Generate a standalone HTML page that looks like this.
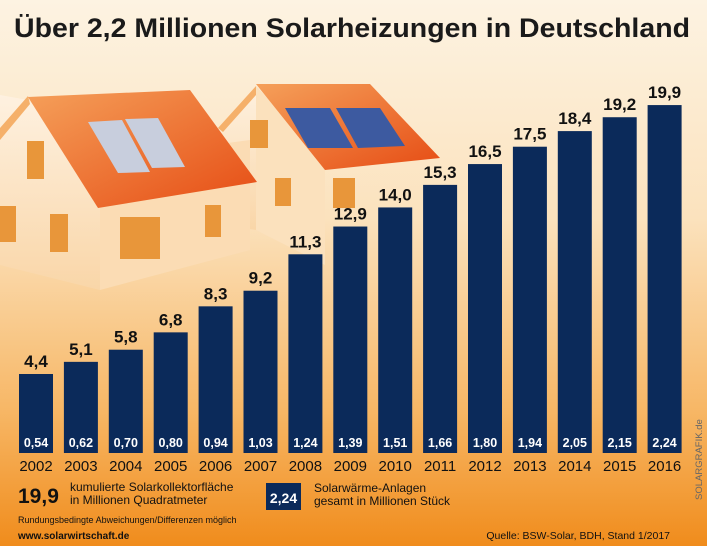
<!DOCTYPE html><html><head><meta charset="utf-8"><style>
body{margin:0;width:707px;height:546px;overflow:hidden;font-family:"Liberation Sans",sans-serif}
svg{display:block}
</style></head><body>
<svg width="707" height="546" viewBox="0 0 707 546">
<defs>
<linearGradient id="bg" x1="0" y1="0" x2="0" y2="1">
<stop offset="0" stop-color="#fdf3e2"/><stop offset="0.4" stop-color="#fbe2bd"/><stop offset="0.75" stop-color="#f7b766"/><stop offset="1" stop-color="#f08c1c"/></linearGradient>
<linearGradient id="roof" x1="0" y1="0" x2="1" y2="1"><stop offset="0" stop-color="#f5a05a"/><stop offset="1" stop-color="#e64c14"/></linearGradient>
<linearGradient id="wall" x1="0" y1="0" x2="0" y2="1"><stop offset="0" stop-color="#fef1e0"/><stop offset="1" stop-color="#f9d6a8"/></linearGradient>
</defs>
<rect width="707" height="546" fill="url(#bg)"/>
<text x="14" y="37" font-size="27" font-weight="bold" fill="#1a1a1a" textLength="676" lengthAdjust="spacingAndGlyphs">Über 2,2 Millionen Solarheizungen in Deutschland</text>
<g>
<polygon points="220,128 256,86 256,230 220,225" fill="url(#wall)"/>
<polygon points="256,86 325,160 325,265 256,230" fill="#fbe1bd"/>
<polygon points="256,86 218,128 223,132 256,95" fill="#f5b06a"/>
<polygon points="256,84 370,84 440,158 325,170" fill="url(#roof)"/>
<polygon points="285,108 330,108 353,148 308,148" fill="#3d5aa0"/>
<polygon points="336,108 380,108 405,146 358,148" fill="#3d5aa0"/>
<rect x="250" y="120" width="18" height="28" fill="#e8963a"/>
<rect x="275" y="178" width="16" height="28" fill="#e8963a"/>
<rect x="333" y="178" width="22" height="30" fill="#e8963a"/>
</g>
<g>
<polygon points="0,95 28,100 100,165 100,290 0,265" fill="url(#wall)"/>
<polygon points="100,160 250,140 250,250 100,290" fill="#fbdcb4"/>
<polygon points="28,96 30,104 0,140 0,128" fill="#f5b06a"/>
<polygon points="28,97 190,90 257,182 98,208" fill="url(#roof)"/>
<polygon points="88,122 122,120 150,172 118,173" fill="#c8cedd"/>
<polygon points="125,119 158,118 185,167 152,168" fill="#c8cedd"/>
<rect x="27" y="141" width="17" height="38" fill="#e8963a"/>
<rect x="0" y="206" width="16" height="36" fill="#e8963a"/>
<rect x="50" y="214" width="18" height="38" fill="#e8963a"/>
<rect x="120" y="217" width="40" height="42" fill="#e8963a"/>
<rect x="205" y="205" width="16" height="32" fill="#e8963a"/>
</g>
<g id="bars" font-weight="bold" text-anchor="middle"></g>
<text x="18" y="503" font-size="21" font-weight="bold" fill="#111">19,9</text>
<text x="70" y="491" font-size="12" fill="#111">kumulierte Solarkollektorfläche</text>
<text x="70" y="504" font-size="12" fill="#111">in Millionen Quadratmeter</text>
<rect x="266" y="483" width="35" height="27" fill="#0b2a5a"/>
<text x="283.5" y="503" font-size="14" font-weight="bold" fill="#fff" text-anchor="middle">2,24</text>
<text x="314" y="492" font-size="12" fill="#111">Solarwärme-Anlagen</text>
<text x="314" y="505" font-size="12" fill="#111">gesamt in Millionen Stück</text>
<text x="18" y="523" font-size="9" fill="#111">Rundungsbedingte Abweichungen/Differenzen möglich</text>
<text x="18" y="539" font-size="10" font-weight="bold" fill="#111">www.solarwirtschaft.de</text>
<text x="670" y="539" font-size="10.5" fill="#111" text-anchor="end">Quelle: BSW-Solar, BDH, Stand 1/2017</text>
<text transform="translate(702,500) rotate(-90)" font-size="9.5" fill="#666">SOLARGRAFIK.de</text>
</svg>
<script>
var d=[[4.4,"0,54"],[5.1,"0,62"],[5.8,"0,70"],[6.8,"0,80"],[8.3,"0,94"],[9.2,"1,03"],[11.3,"1,24"],[12.9,"1,39"],[14.0,"1,51"],[15.3,"1,66"],[16.5,"1,80"],[17.5,"1,94"],[18.4,"2,05"],[19.2,"2,15"],[19.9,"2,24"]];
var g=document.getElementById('bars'),s='';
d.forEach(function(e,i){var x=19+i*44.9,t=374-(e[0]-4.4)*17.35,c=x+17;
s+='<rect x="'+x+'" y="'+t+'" width="34" height="'+(453-t)+'" fill="#0b2a5a"/>';
s+='<text x="'+c+'" y="'+(t-7)+'" font-size="17" fill="#111">'+e[0].toFixed(1).replace('.',',')+'</text>';
s+='<text x="'+c+'" y="'+447+'" font-size="12.5" fill="#fff">'+e[1]+'</text>';
s+='<text x="'+c+'" y="'+471+'" font-size="15" font-weight="normal" fill="#111">'+(2002+i)+'</text>';});
g.innerHTML=s;
</script>
</body></html>
